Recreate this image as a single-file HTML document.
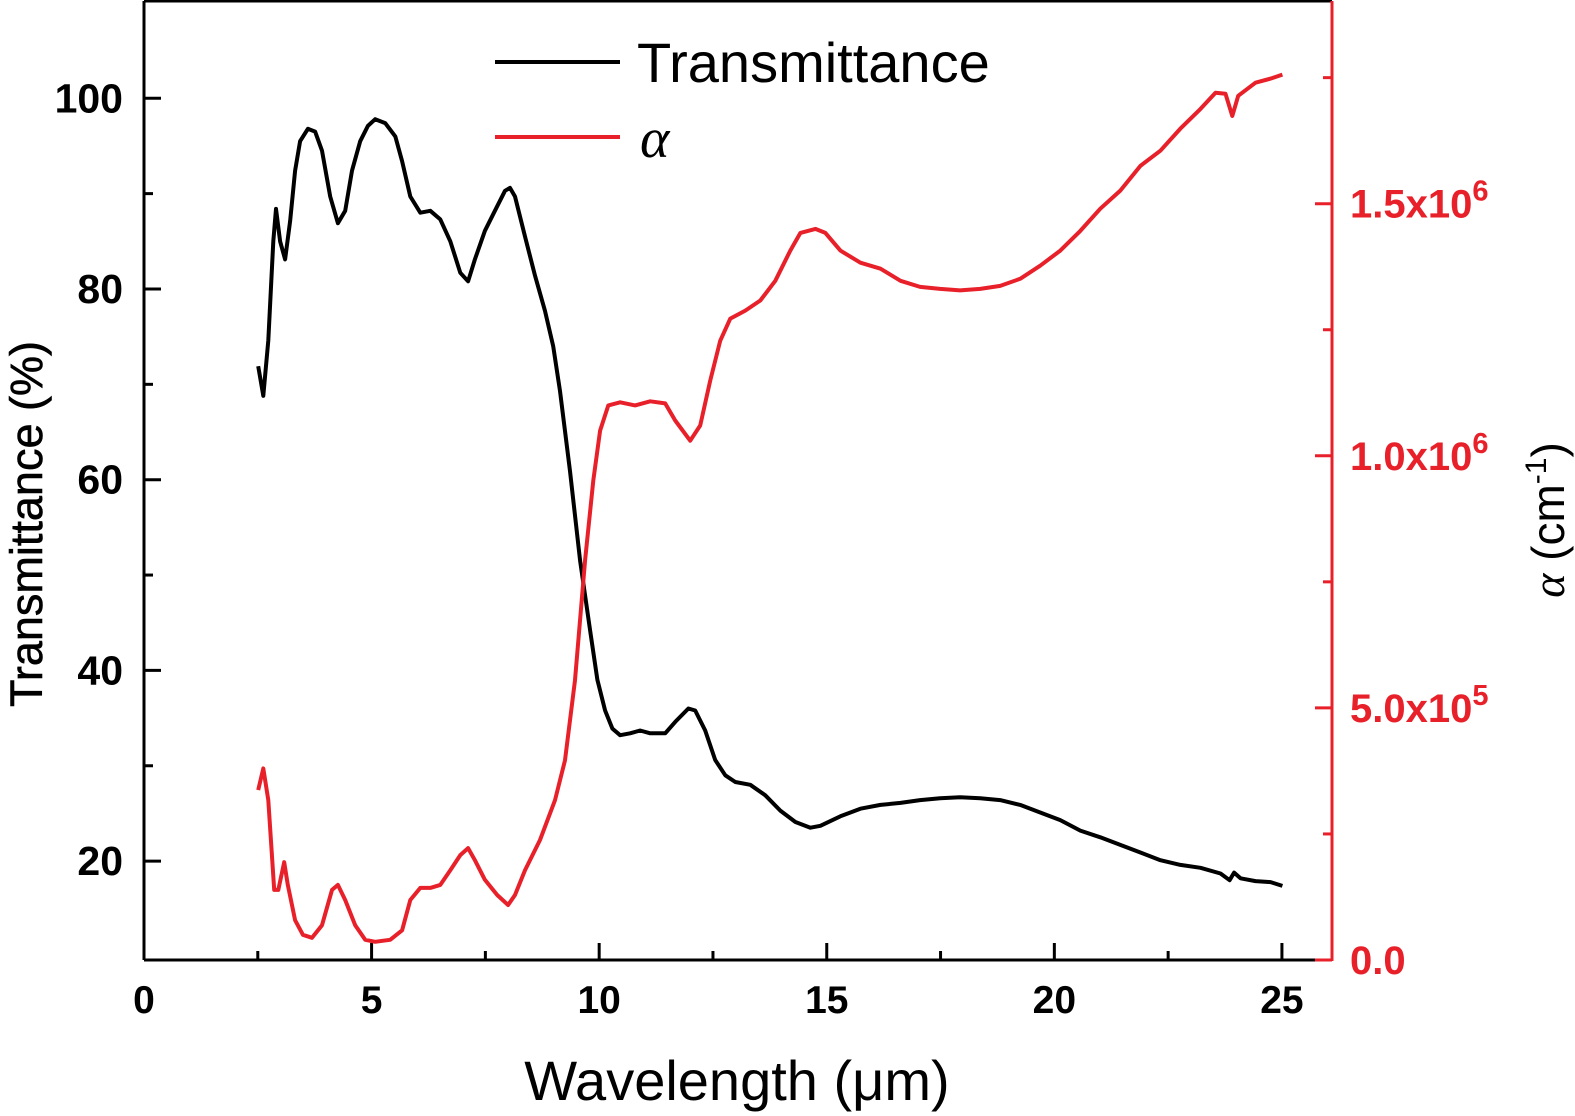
<!DOCTYPE html>
<html><head><meta charset="utf-8"><style>
html,body{margin:0;padding:0;background:#fff;}
svg{display:block;font-family:"Liberation Sans",Arial,sans-serif;}
</style></head><body>
<svg id="chart" width="1575" height="1116" viewBox="0 0 1575 1116">
<g id="axes"></g>
<g id="series"></g>
<g id="legend">
<line x1="495" y1="62" x2="620" y2="62" stroke="#000" stroke-width="4"/>
<text x="637" y="82" font-size="56" fill="#000">Transmittance</text>
<line x1="495" y1="137" x2="620" y2="137" stroke="#e8202a" stroke-width="4"/>
<text x="640" y="157" font-size="56" font-style="italic" font-family="Liberation Serif,serif" fill="#000">α</text>
</g>
<text x="737" y="1100" font-size="56" text-anchor="middle" fill="#000">Wavelength (μm)</text>
<text transform="translate(42,524) rotate(-90)" font-size="45" text-anchor="middle" fill="#000" stroke="#000" stroke-width="0.6">Transmittance (%)</text>
<text transform="translate(1564,520) rotate(-90)" font-size="46" text-anchor="middle" fill="#000"><tspan font-style="italic" font-family="Liberation Serif,serif">α</tspan> (cm<tspan font-size="30" dy="-18">-1</tspan><tspan dy="18">)</tspan></text>
</svg>
<script>
const transWl=[2.51,2.62,2.73,2.84,2.90,2.99,3.10,3.21,3.32,3.43,3.60,3.76,3.91,4.09,4.26,4.42,4.57,4.75,4.92,5.08,5.30,5.52,5.67,5.85,6.07,6.29,6.51,6.73,6.95,7.12,7.27,7.49,7.71,7.93,8.04,8.15,8.37,8.59,8.81,8.99,9.14,9.36,9.58,9.80,9.96,10.13,10.29,10.46,10.68,10.90,11.12,11.45,11.67,11.96,12.11,12.33,12.55,12.77,12.99,13.32,13.65,13.98,14.31,14.64,14.86,15.30,15.74,16.18,16.62,17.05,17.49,17.93,18.37,18.81,19.25,19.69,20.13,20.57,21.01,21.45,21.89,22.33,22.77,23.21,23.65,23.85,23.95,24.09,24.42,24.75,25.01];
const transVal=[71.9,68.8,74.6,85.0,88.4,85.0,83.1,87.1,92.4,95.5,96.8,96.5,94.5,89.7,86.9,88.2,92.4,95.5,97.1,97.8,97.4,96.0,93.4,89.7,88.0,88.2,87.3,85.0,81.7,80.8,83.1,86.1,88.2,90.3,90.6,89.7,85.5,81.4,77.7,74.0,69.3,60.9,51.5,44.2,39.0,35.8,33.9,33.2,33.4,33.7,33.4,33.4,34.6,36.0,35.8,33.7,30.6,29.0,28.3,28.0,26.9,25.3,24.1,23.5,23.7,24.7,25.5,25.9,26.1,26.4,26.6,26.7,26.6,26.4,25.9,25.1,24.3,23.2,22.5,21.7,20.9,20.1,19.6,19.3,18.7,18.0,18.8,18.2,17.9,17.8,17.4];
const alphaWl=[2.51,2.62,2.73,2.86,2.95,3.08,3.16,3.32,3.49,3.69,3.91,4.13,4.26,4.42,4.64,4.86,5.08,5.41,5.67,5.85,6.07,6.29,6.51,6.73,6.95,7.12,7.27,7.49,7.76,8.00,8.15,8.37,8.70,9.03,9.25,9.47,9.69,9.87,10.02,10.20,10.46,10.79,11.12,11.45,11.67,12.00,12.22,12.44,12.66,12.88,13.21,13.54,13.87,14.20,14.42,14.75,14.97,15.30,15.74,16.18,16.62,17.05,17.49,17.93,18.37,18.81,19.25,19.69,20.13,20.57,21.01,21.45,21.89,22.33,22.77,23.21,23.54,23.76,23.91,24.04,24.42,24.75,25.01];
const alphaVal=[0.337,0.380,0.317,0.139,0.139,0.194,0.149,0.079,0.050,0.044,0.069,0.139,0.149,0.119,0.069,0.040,0.036,0.040,0.059,0.119,0.143,0.143,0.149,0.178,0.208,0.222,0.198,0.159,0.129,0.109,0.129,0.178,0.238,0.317,0.396,0.555,0.793,0.951,1.050,1.100,1.106,1.100,1.108,1.104,1.070,1.030,1.060,1.149,1.228,1.272,1.288,1.308,1.347,1.407,1.442,1.450,1.442,1.407,1.383,1.371,1.347,1.335,1.331,1.328,1.331,1.337,1.351,1.377,1.407,1.446,1.490,1.526,1.575,1.605,1.649,1.688,1.720,1.718,1.674,1.714,1.740,1.748,1.756];
const xTicks=[0,5,10,15,20,25];
const leftTicks=[20,40,60,80,100];
const rightTicks=[0,0.5,1.0,1.5];
const rightTickLabels=["0.0","5.0x10","1.0x10","1.5x10"];
const rightTickExp=["","5","6","6"];

const L=144,R=1332,T=1,B=960;
const xMin=0,xMax=26.1,lMin=9.63,lMax=110.2,rMin=0,rMax=1.902;
const sx=v=>L+(v-xMin)/(xMax-xMin)*(R-L);
const sl=v=>B-(v-lMin)/(lMax-lMin)*(B-T);
const sr=v=>B-(v-rMin)/(rMax-rMin)*(B-T);
const NS="http://www.w3.org/2000/svg";
function mk(tag,attrs,parent,text){const e=document.createElementNS(NS,tag);for(const k in attrs)e.setAttribute(k,attrs[k]);if(text!==undefined)e.textContent=text;parent.appendChild(e);return e;}
const ax=document.getElementById('axes'),se=document.getElementById('series');
let e;
e=mk('line',{x1:L,y1:T,x2:R,y2:T,stroke:'#000','stroke-width':3},ax);


e=mk('line',{x1:L,y1:T,x2:L,y2:B,stroke:'#000','stroke-width':3},ax);


e=mk('line',{x1:L,y1:B,x2:R,y2:B,stroke:'#000','stroke-width':3},ax);


e=mk('line',{x1:R,y1:T,x2:R,y2:B+1,stroke:'#e8202a','stroke-width':3},ax);


for(let v=0;v<=25.01;v+=2.5){const maj=Math.abs(v%5)<0.01;
 e=mk('line',{x1:sx(v),y1:B,x2:sx(v),y2:B-(maj?17:9),stroke:'#000','stroke-width':3},ax);
 
 }
xTicks.forEach(v=>{e=mk('text',{x:sx(v),y:1013,'font-size':39,'font-weight':'bold','text-anchor':'middle',fill:'#000'},ax,String(v));
 
 });
for(let v=20;v<=100;v+=10){const maj=v%20===0;
 e=mk('line',{x1:L,y1:sl(v),x2:L+(maj?17:9),y2:sl(v),stroke:'#000','stroke-width':3},ax);
 
 }
leftTicks.forEach(v=>{e=mk('text',{x:123,y:sl(v)+14,'font-size':41,'font-weight':'bold','text-anchor':'end',fill:'#000'},ax,String(v));
 
 });
for(let v=0;v<=1.76;v+=0.25){const maj=Math.abs((v*2)%1)<0.01;
 e=mk('line',{x1:R,y1:sr(v),x2:R-(maj?17:9),y2:sr(v),stroke:'#e8202a','stroke-width':3},ax);
 
 }
rightTicks.forEach((v,i)=>{const t=mk('text',{x:1350,y:sr(v)+14,'font-size':40,'font-weight':'bold',fill:'#e8202a'},ax);
 t.textContent=rightTickLabels[i];
 if(rightTickExp[i]){mk('tspan',{'font-size':29,dy:-17},t,rightTickExp[i]);}
 
 });
e=mk('path',{d:transWl.map((w,i)=>(i?'L':'M')+sx(w).toFixed(1)+' '+sl(transVal[i]).toFixed(1)).join(' '),fill:'none',stroke:'#000','stroke-width':4,'stroke-linejoin':'round'},se);


e=mk('path',{d:alphaWl.map((w,i)=>(i?'L':'M')+sx(w).toFixed(1)+' '+sr(alphaVal[i]).toFixed(1)).join(' '),fill:'none',stroke:'#e8202a','stroke-width':4,'stroke-linejoin':'round'},se);


</script>
</body></html>
